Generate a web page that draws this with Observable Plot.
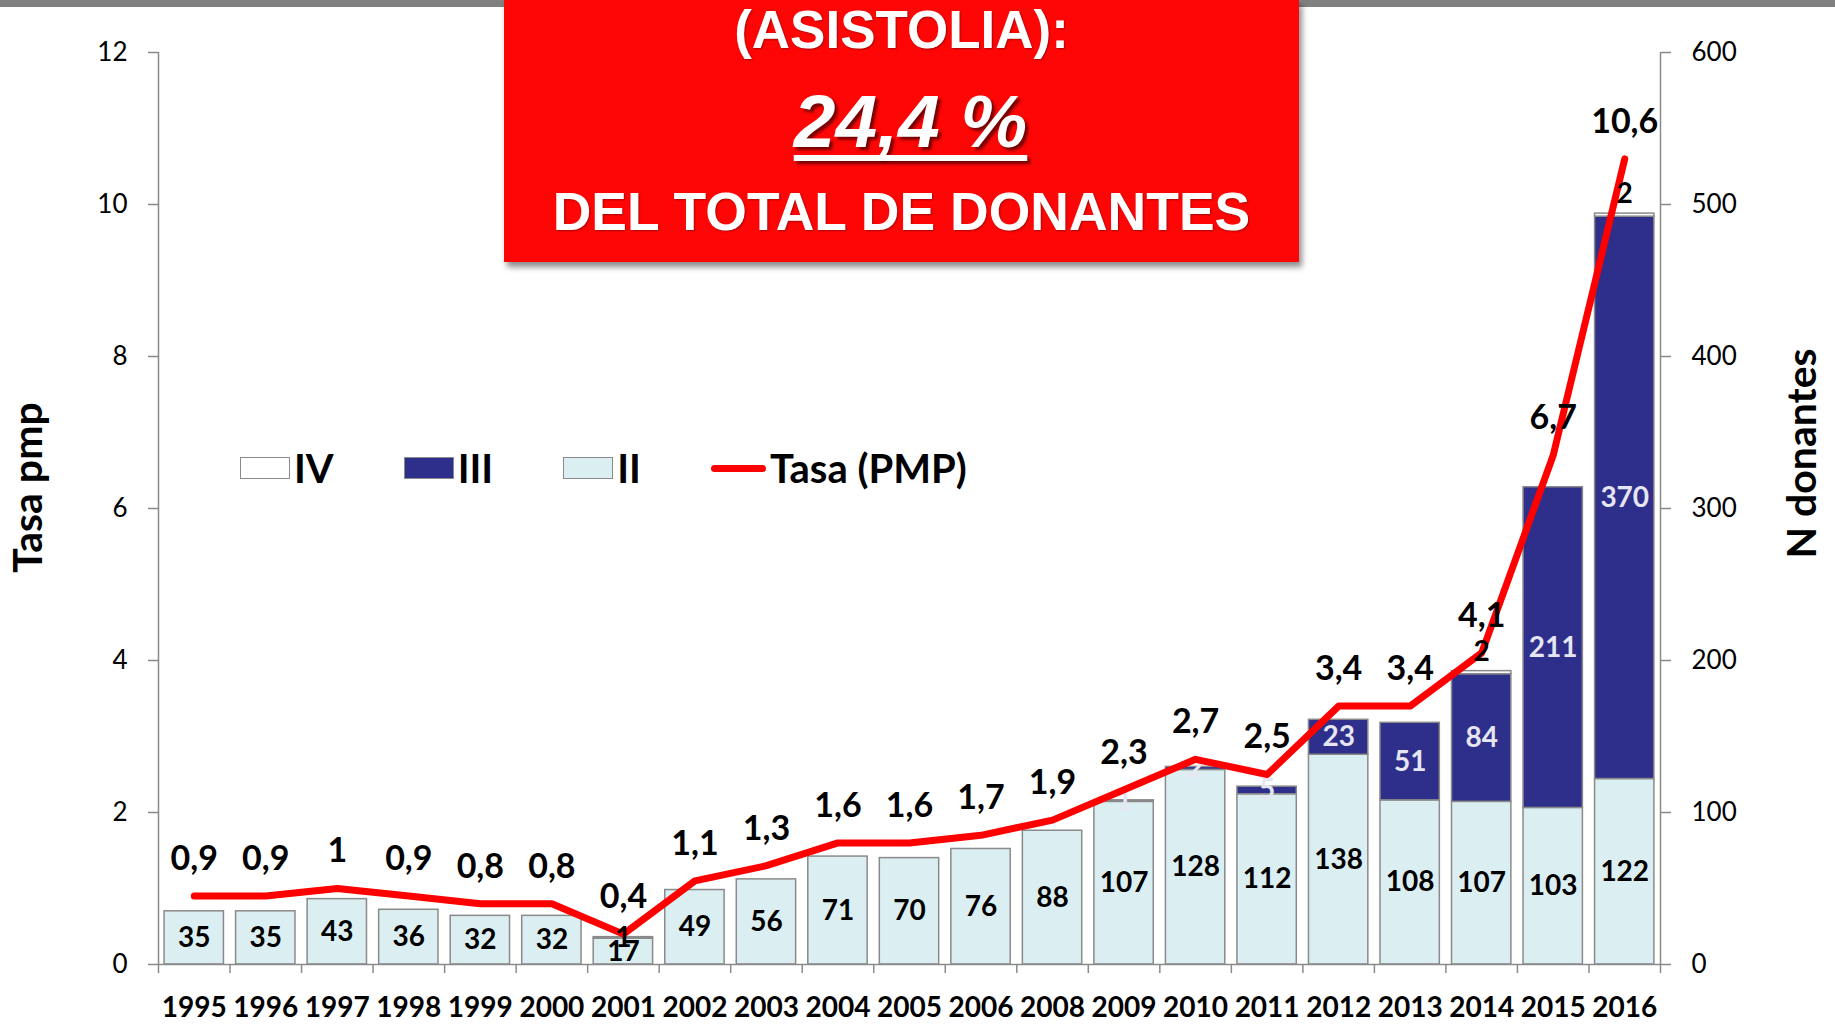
<!DOCTYPE html>
<html>
<head>
<meta charset="utf-8">
<script src="https://cdn.jsdelivr.net/npm/d3@7"></script>
<script src="https://cdn.jsdelivr.net/npm/@observablehq/plot@0.6"></script>
<style>
  html, body { margin: 0; padding: 0; background: #fff; }
  #wrap { position: relative; width: 1835px; height: 1024px; overflow: hidden; font-family: Lato, "Open Sans", sans-serif; }
  #topband { position: absolute; left: 0; top: 0; width: 1835px; height: 7px; background: #808080; }
  #chart { position: absolute; left: 0; top: 0; }
  #banner { position: absolute; left: 504px; top: 0; width: 795px; height: 262px; background: #ff0606;
            box-shadow: 3px 5px 6px rgba(0,0,0,0.45); color: #fff; font-family: "Liberation Sans", Arial, sans-serif; font-weight: bold; }
  #banner div { position: absolute; left: 0; width: 100%; text-align: center; line-height: 1; white-space: nowrap;
                text-shadow: 1px 1px 2px rgba(0,0,0,0.35); }
  #b1 { top: 3px; font-size: 53px; }
  #b2 { top: 84px; font-size: 75px; font-style: italic; padding-left: 18px; box-sizing: border-box; }
  #b2 span { text-decoration: underline; text-decoration-thickness: 6px; text-underline-offset: 8px; text-decoration-skip-ink: none;
             text-shadow: 3px 3px 3px rgba(0,0,0,0.55); }
  #b3 { top: 185px; font-size: 53.5px; }
  #legend { position: absolute; left: 240px; top: 444px; height: 48px; display: flex; align-items: center; gap: 70px;
            font-family: Lato, sans-serif; font-weight: bold; font-size: 40px; line-height: 48px; color: #000; }
  #legend .item { display: flex; align-items: center; gap: 4px; }
  #legend .sw { width: 48px; height: 20px; border: 1.5px solid #8a8a8a; }
  #legend .ln { width: 55px; height: 7px; border-radius: 3.5px; background: #ff0000; }
</style>
</head>
<body>
<div id="wrap">
  <div id="topband"></div>
  <div id="chart"></div>
  <div id="legend"></div>
  <div id="banner">
    <div id="b1"></div>
    <div id="b2"><span></span></div>
    <div id="b3"></div>
  </div>
</div>
<script>
// ---- data ----
const years = ["1995","1996","1997","1998","1999","2000","2001","2002","2003","2004","2005","2006",
               "2008","2009","2010","2011","2012","2013","2014","2015","2016"];
const grado2 = [35,35,43,36,32,32,17,49,56,71,70,76,88,107,128,112,138,108,107,103,122];
const grado3 = [0,0,0,0,0,0,0,0,0,0,0,0,0,1,2,5,23,51,84,211,370];
const grado4 = [0,0,0,0,0,0,1,0,0,0,0,0,0,0,0,0,0,0,2,0,2];
const tasa   = [0.9,0.9,1,0.9,0.8,0.8,0.4,1.1,1.3,1.6,1.6,1.7,1.9,2.3,2.7,2.5,3.4,3.4,4.1,6.7,10.6];
const seriesNames = ["II", "III", "IV"];
const legendOrder = ["IV", "III", "II"];
const lineName = "Tasa (PMP)";
const leftTicks = [0, 2, 4, 6, 8, 10, 12];
const rightMax = 600;
const leftMax = 12;
const leftTitle = "Tasa pmp";
const rightTitle = "N donantes";
const bannerLines = ["(ASISTOLIA):", "24,4 %", "DEL TOTAL DE DONANTES"];

// ---- styles ----
const colors = {II: "#dbeef1", III: "#2e2e8b", IV: "#ffffff"};
const gridGray = "#8a8a8a";
const ratio = rightMax / leftMax;

const rows = [];
years.forEach((y, i) => {
  const total = grado2[i] + grado3[i] + grado4[i];
  rows.push({year: y, serie: "II", value: grado2[i], total});
  rows.push({year: y, serie: "III", value: grado3[i], total});
  rows.push({year: y, serie: "IV", value: grado4[i], total});
});
const barRows = rows.filter(d => d.value > 0);
const tasaRows = years.map((y, i) => ({year: y, tasa: tasa[i]}));
const fmt = v => String(v).replace(".", ",");

const W = 1835, H = 1024, mL = 158, mR = 175, mT = 52, mB = 60;
const step = (W - mL - mR) / years.length;

const stackOpts = (extra) => Plot.stackY({x: "year", y: d => d.value / ratio, z: "serie", order: seriesNames, ...extra});

const chart = Plot.plot({
  width: W, height: H,
  marginLeft: mL, marginRight: mR, marginTop: mT, marginBottom: mB,
  style: {fontFamily: "Lato, 'Open Sans', sans-serif", background: "transparent", color: "#000"},
  x: {type: "band", domain: years, paddingInner: 0.17, paddingOuter: 0.085, round: false, axis: null},
  y: {domain: [0, leftMax], axis: null},
  color: {domain: seriesNames, range: seriesNames.map(s => colors[s])},
  marks: [
    // bars
    Plot.barY(barRows, stackOpts({fill: "serie", stroke: gridGray, strokeWidth: 1.5})),
    // axis lines
    Plot.ruleY([0], {stroke: gridGray, strokeWidth: 1.5}),
    Plot.ruleX([years[0]], {y1: 0, y2: leftMax, dx: -step / 2, stroke: gridGray, strokeWidth: 1.5}),
    Plot.ruleX([years[years.length - 1]], {y1: 0, y2: leftMax, dx: step / 2, stroke: gridGray, strokeWidth: 1.5}),
    // category boundary ticks
    Plot.axisX(years, {tickSize: 9, tickFormat: () => "", dx: -step / 2, stroke: gridGray, strokeWidth: 1.5, label: null}),
    Plot.axisX([years[years.length - 1]], {tickSize: 9, tickFormat: () => "", dx: step / 2, stroke: gridGray, strokeWidth: 1.5, label: null}),
    // year labels
    Plot.axisX(years, {tickSize: 0, tickPadding: 33, fontSize: 28, fontWeight: "bold", fill: "#000", label: null}),
    // left / right axes
    Plot.axisY(leftTicks, {anchor: "left", tickSize: 10, tickPadding: 21, fontSize: 26, stroke: gridGray, strokeWidth: 1.5, fill: "#000", label: null,
                           tickFormat: d => String(d)}),
    Plot.axisY(leftTicks, {anchor: "right", tickSize: 10, tickPadding: 21, fontSize: 26, stroke: gridGray, strokeWidth: 1.5, fill: "#000", label: null,
                           tickFormat: d => String(d * ratio)}),
    // axis titles
    Plot.text([leftTitle], {frameAnchor: "left", textAnchor: "middle", rotate: -90, dx: -130, dy: -21, fontSize: 41, fontWeight: "bold", fill: "#000"}),
    Plot.text([rightTitle], {frameAnchor: "right", textAnchor: "middle", rotate: -90, dx: 142, dy: -55, fontSize: 41, fontWeight: "bold", fill: "#000"}),
    // bar labels
    Plot.text(rows, stackOpts({text: d => d.serie === "II" && d.value > 0 ? d.value : "", fill: "#000", fontSize: 28, fontWeight: "bold"})),
    Plot.text(rows, stackOpts({text: d => d.serie === "III" && d.value > 0 ? d.value : "", fill: "#e6e6f2", fontSize: 28, fontWeight: "bold"})),
    // line
    Plot.line(tasaRows, {x: "year", y: "tasa", stroke: "#ff0000", strokeWidth: 7, strokeLinejoin: "round", strokeLinecap: "round"}),
    // IV labels (above bar top when the bar is tall, inside otherwise)
    Plot.text(rows, stackOpts({text: d => d.serie === "IV" && d.value > 0 && d.total >= 100 ? d.value : "", dy: -21, fill: "#000", fontSize: 28, fontWeight: "bold"})),
    Plot.text(rows, stackOpts({text: d => d.serie === "IV" && d.value > 0 && d.total < 100 ? d.value : "", fill: "#000", fontSize: 28, fontWeight: "bold"})),
    // tasa labels
    Plot.text(tasaRows, {x: "year", y: "tasa", text: d => fmt(d.tasa), dy: -37, fontSize: 34, fontWeight: "bold", fill: "#000"})
  ]
});
document.getElementById("chart").appendChild(chart);

// legend
const leg = document.getElementById("legend");
legendOrder.forEach(s => {
  const it = document.createElement("div"); it.className = "item";
  const sw = document.createElement("div"); sw.className = "sw"; sw.style.background = colors[s];
  const tx = document.createElement("span"); tx.textContent = s;
  it.appendChild(sw); it.appendChild(tx); leg.appendChild(it);
});
{
  const it = document.createElement("div"); it.className = "item";
  const ln = document.createElement("div"); ln.className = "ln";
  const tx = document.createElement("span"); tx.textContent = lineName;
  it.appendChild(ln); it.appendChild(tx); leg.appendChild(it);
}

// banner
document.getElementById("b1").textContent = bannerLines[0];
document.querySelector("#b2 span").textContent = bannerLines[1];
document.getElementById("b3").textContent = bannerLines[2];
</script>
</body>
</html>
